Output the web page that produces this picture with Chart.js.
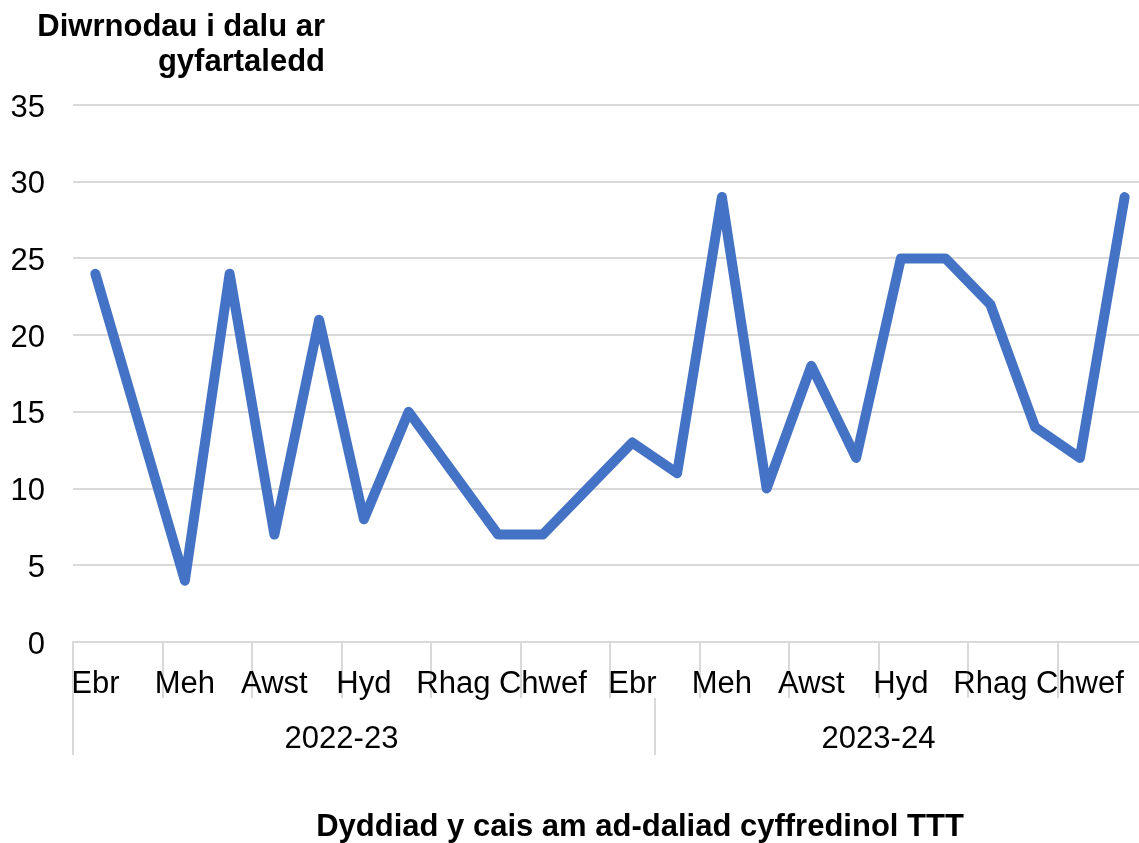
<!DOCTYPE html>
<html>
<head>
<meta charset="utf-8">
<title>Diwrnodau i dalu</title>
<script src="https://cdn.jsdelivr.net/npm/chart.js@4.4.1/dist/chart.umd.min.js"></script>
<style>
    html, body { margin: 0; padding: 0; background: #fff; overflow: hidden; }
    #wrap { position: relative; width: 1147px; height: 843px; }
</style>
</head>
<body>
<div id="wrap"><canvas id="daysChart"></canvas></div>
<script>
// Data
const years = ['2022-23', '2023-24'];
const months = ['Ebr', 'Mai', 'Meh', 'Gorff', 'Awst', 'Medi', 'Hyd', 'Tach', 'Rhag', 'Ion', 'Chwef', 'Maw'];
const days2022 = [24, 14, 4, 24, 7, 21, 8, 15, 11, 7, 7, 10];
const days2023 = [13, 11, 29, 10, 18, 12, 25, 25, 22, 14, 12, 29];
const yMax = 35;
const yStep = 5;

const yTitleLines = ['Diwrnodau i dalu ar', 'gyfartaledd'];
const xTitle = 'Dyddiad y cais am ad-daliad cyffredinol TTT';

// Colors
const lineColor = '#4472C4';
const gridColor = '#D9D9D9';
const textColor = '#000000';
const fontFamily = "'Liberation Sans', Arial, sans-serif";

const categories = years.flatMap(y => months.map(m => m + ' ' + y));
const values = days2022.concat(days2023);

// titles, year row and the long separators of the two-level axis
const extrasPlugin = {
    id: 'extras',
    afterDraw(chart) {
        const { ctx } = chart;
        const x = chart.scales.x;
        ctx.save();

        // separators
        ctx.strokeStyle = gridColor;
        ctx.lineWidth = 2;
        ctx.beginPath();
        ctx.moveTo(Math.round(x.left), x.top);
        ctx.lineTo(Math.round(x.left), 755);
        const sepX = Math.round((x.getPixelForValue(12) + x.getPixelForValue(13)) / 2);
        ctx.moveTo(sepX, x.top + 56);
        ctx.lineTo(sepX, 755);
        ctx.stroke();

        // year labels
        ctx.fillStyle = textColor;
        ctx.font = '31px ' + fontFamily;
        ctx.textAlign = 'center';
        ctx.textBaseline = 'alphabetic';
        years.forEach((y, i) => {
            const cx = (x.getPixelForValue(i * 12) + x.getPixelForValue(i * 12 + 11)) / 2;
            ctx.fillText(y, cx, 748);
        });

        // axis titles
        ctx.font = 'bold 31px ' + fontFamily;
        ctx.textAlign = 'right';
        ctx.fillText(yTitleLines[0], 325, 36);
        ctx.fillText(yTitleLines[1], 325, 71);
        ctx.textAlign = 'center';
        ctx.fillText(xTitle, 640, 836);

        ctx.restore();
    }
};

const ctx = document.getElementById('daysChart').getContext('2d');
new Chart(ctx, {
    type: 'line',
    data: {
        labels: categories,
        datasets: [{
            label: 'Diwrnodau',
            data: values,
            borderColor: lineColor,
            borderWidth: 10,
            borderJoinStyle: 'round',
            borderCapStyle: 'round',
            pointRadius: 0,
            tension: 0,
            fill: false
        }]
    },
    options: {
        responsive: true,
        maintainAspectRatio: false,
        animation: false,
        layout: { padding: { top: 105, left: 0, right: 0, bottom: 0 } },
        plugins: {
            legend: { display: false },
            tooltip: { enabled: false }
        },
        scales: {
            x: {
                type: 'category',
                offset: true,
                afterFit: scale => { scale.height = 201; },
                grid: {
                    offset: true,
                    drawOnChartArea: false,
                    drawTicks: true,
                    tickLength: 56,
                    lineWidth: 2,
                    color: c => (c.index % 2 === 0 ? gridColor : 'rgba(0,0,0,0)')
                },
                border: { display: true, color: gridColor, width: 2 },
                ticks: {
                    autoSkip: false,
                    maxRotation: 0,
                    minRotation: 0,
                    padding: -32,
                    color: textColor,
                    font: { family: fontFamily, size: 31 },
                    callback: (v, i) => (i % 2 === 0 ? months[i % 12] : '')
                }
            },
            y: {
                min: 0,
                max: yMax,
                afterFit: scale => { scale.width = 73; },
                grid: { color: gridColor, lineWidth: 2, drawTicks: false },
                border: { display: false },
                ticks: {
                    stepSize: yStep,
                    padding: 28,
                    labelOffset: 3,
                    color: textColor,
                    font: { family: fontFamily, size: 31 }
                }
            }
        }
    },
    plugins: [extrasPlugin]
});
</script>
</body>
</html>
